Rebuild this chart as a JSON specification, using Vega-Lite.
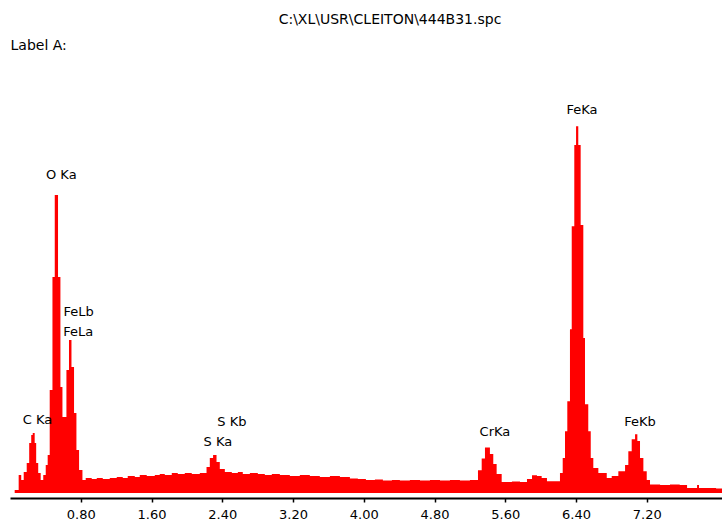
{
  "$schema": "https://vega.github.io/schema/vega-lite/v6.json",
  "width": 712,
  "height": 433,
  "autosize": {"type": "none"},
  "padding": {"left": 10, "top": 60, "right": 0, "bottom": 30},
  "background": "white",
  "config": {"view": {"stroke": null}},
  "title": {
    "text": "C:\\XL\\USR\\CLEITON\\444B31.spc",
    "anchor": "middle",
    "frame": "group",
    "dx": 24,
    "offset": 11,
    "font": "DejaVu Sans",
    "fontSize": 14,
    "fontWeight": "normal",
    "color": "black"
  },
  "datasets": {
    "spectrum": [
      {"keV": 0.053, "counts": 3},
      {"keV": 0.098, "counts": 18},
      {"keV": 0.127, "counts": 13},
      {"keV": 0.155, "counts": 21},
      {"keV": 0.189, "counts": 30},
      {"keV": 0.217, "counts": 50},
      {"keV": 0.240, "counts": 58},
      {"keV": 0.257, "counts": 60},
      {"keV": 0.279, "counts": 50},
      {"keV": 0.296, "counts": 30},
      {"keV": 0.319, "counts": 20},
      {"keV": 0.347, "counts": 13},
      {"keV": 0.376, "counts": 18},
      {"keV": 0.404, "counts": 28},
      {"keV": 0.426, "counts": 38},
      {"keV": 0.449, "counts": 103},
      {"keV": 0.480, "counts": 216},
      {"keV": 0.506, "counts": 298},
      {"keV": 0.543, "counts": 216},
      {"keV": 0.570, "counts": 106},
      {"keV": 0.593, "counts": 76},
      {"keV": 0.638, "counts": 123},
      {"keV": 0.667, "counts": 153},
      {"keV": 0.695, "counts": 126},
      {"keV": 0.724, "counts": 80},
      {"keV": 0.751, "counts": 43},
      {"keV": 0.781, "counts": 23},
      {"keV": 0.819, "counts": 13},
      {"keV": 0.856, "counts": 15},
      {"keV": 0.924, "counts": 14},
      {"keV": 0.981, "counts": 15},
      {"keV": 1.049, "counts": 14},
      {"keV": 1.128, "counts": 15},
      {"keV": 1.207, "counts": 16},
      {"keV": 1.275, "counts": 15},
      {"keV": 1.331, "counts": 17},
      {"keV": 1.411, "counts": 16},
      {"keV": 1.467, "counts": 18},
      {"keV": 1.546, "counts": 17},
      {"keV": 1.637, "counts": 18},
      {"keV": 1.693, "counts": 19},
      {"keV": 1.750, "counts": 18},
      {"keV": 1.829, "counts": 20},
      {"keV": 1.897, "counts": 19},
      {"keV": 1.976, "counts": 20},
      {"keV": 2.055, "counts": 19},
      {"keV": 2.146, "counts": 20},
      {"keV": 2.222, "counts": 26},
      {"keV": 2.259, "counts": 35},
      {"keV": 2.296, "counts": 38},
      {"keV": 2.335, "counts": 31},
      {"keV": 2.372, "counts": 24},
      {"keV": 2.429, "counts": 21},
      {"keV": 2.508, "counts": 20},
      {"keV": 2.576, "counts": 21},
      {"keV": 2.632, "counts": 19},
      {"keV": 2.712, "counts": 20},
      {"keV": 2.802, "counts": 19},
      {"keV": 2.881, "counts": 18},
      {"keV": 2.960, "counts": 19},
      {"keV": 3.051, "counts": 18},
      {"keV": 3.164, "counts": 17},
      {"keV": 3.277, "counts": 18},
      {"keV": 3.390, "counts": 17},
      {"keV": 3.503, "counts": 16},
      {"keV": 3.617, "counts": 17},
      {"keV": 3.730, "counts": 16},
      {"keV": 3.843, "counts": 14.5},
      {"keV": 3.933, "counts": 14},
      {"keV": 4.024, "counts": 13},
      {"keV": 4.126, "counts": 13.5},
      {"keV": 4.216, "counts": 12.5},
      {"keV": 4.318, "counts": 13},
      {"keV": 4.408, "counts": 12.5},
      {"keV": 4.521, "counts": 13},
      {"keV": 4.635, "counts": 12.5},
      {"keV": 4.748, "counts": 13},
      {"keV": 4.861, "counts": 12.5},
      {"keV": 4.974, "counts": 13},
      {"keV": 5.087, "counts": 12.5},
      {"keV": 5.200, "counts": 13},
      {"keV": 5.291, "counts": 22.7},
      {"keV": 5.333, "counts": 34.4},
      {"keV": 5.370, "counts": 45.4},
      {"keV": 5.426, "counts": 39},
      {"keV": 5.464, "counts": 29},
      {"keV": 5.502, "counts": 19},
      {"keV": 5.559, "counts": 11},
      {"keV": 5.675, "counts": 11.5},
      {"keV": 5.766, "counts": 11},
      {"keV": 5.845, "counts": 14},
      {"keV": 5.902, "counts": 17.7},
      {"keV": 5.958, "counts": 17},
      {"keV": 6.011, "counts": 15},
      {"keV": 6.071, "counts": 11.7},
      {"keV": 6.218, "counts": 20},
      {"keV": 6.249, "counts": 35},
      {"keV": 6.275, "counts": 61.7},
      {"keV": 6.301, "counts": 91.7},
      {"keV": 6.331, "counts": 163.7},
      {"keV": 6.351, "counts": 266.7},
      {"keV": 6.380, "counts": 348},
      {"keV": 6.400, "counts": 366.7},
      {"keV": 6.425, "counts": 348},
      {"keV": 6.452, "counts": 268},
      {"keV": 6.482, "counts": 155},
      {"keV": 6.501, "counts": 88.7},
      {"keV": 6.538, "counts": 61.7},
      {"keV": 6.566, "counts": 35},
      {"keV": 6.595, "counts": 25},
      {"keV": 6.652, "counts": 20},
      {"keV": 6.747, "counts": 15},
      {"keV": 6.803, "counts": 17},
      {"keV": 6.878, "counts": 21.7},
      {"keV": 6.954, "counts": 28},
      {"keV": 6.991, "counts": 41.7},
      {"keV": 7.029, "counts": 53.7},
      {"keV": 7.067, "counts": 58.7},
      {"keV": 7.093, "counts": 52},
      {"keV": 7.123, "counts": 35},
      {"keV": 7.161, "counts": 21.7},
      {"keV": 7.199, "counts": 13},
      {"keV": 7.236, "counts": 8.5},
      {"keV": 7.350, "counts": 8},
      {"keV": 7.462, "counts": 8.5},
      {"keV": 7.572, "counts": 8},
      {"keV": 7.655, "counts": 5},
      {"keV": 7.768, "counts": 8},
      {"keV": 7.790, "counts": 5},
      {"keV": 7.915, "counts": 5},
      {"keV": 7.983, "counts": 4.5},
      {"keV": 8.051, "counts": 4.5}
    ],
    "peaks": [
      {"keV": 0.31, "counts": 73, "label": "C Ka"},
      {"keV": 0.58, "counts": 318, "label": "O Ka"},
      {"keV": 0.777, "counts": 181, "label": "FeLb"},
      {"keV": 0.771, "counts": 161, "label": "FeLa"},
      {"keV": 2.508, "counts": 71, "label": "S Kb"},
      {"keV": 2.35, "counts": 51, "label": "S Ka"},
      {"keV": 5.483, "counts": 61, "label": "CrKa"},
      {"keV": 6.467, "counts": 383, "label": "FeKa"},
      {"keV": 7.123, "counts": 71, "label": "FeKb"}
    ]
  },
  "encoding": {
    "x": {
      "field": "keV",
      "type": "quantitative",
      "scale": {"domain": [0, 8.05], "nice": false, "zero": false},
      "axis": {
        "title": null,
        "values": [0.8, 1.6, 2.4, 3.2, 4.0, 4.8, 5.6, 6.4, 7.2],
        "format": ".2f",
        "offset": 5,
        "grid": false,
        "domainColor": "black",
        "domainWidth": 2,
        "tickColor": "black",
        "tickSize": 4,
        "tickWidth": 1.5,
        "labelFont": "DejaVu Sans",
        "labelFontSize": 13,
        "labelColor": "black",
        "labelDx": -10,
        "labelPadding": 6
      }
    },
    "y": {
      "field": "counts",
      "type": "quantitative",
      "scale": {"domain": [0, 433], "nice": false},
      "axis": {
        "title": "Label A:",
        "titleAngle": 0,
        "titleAlign": "left",
        "titleBaseline": "middle",
        "titleX": 0,
        "titleY": -15,
        "titleFont": "DejaVu Sans",
        "titleFontSize": 14,
        "titleFontWeight": "normal",
        "titleColor": "black",
        "domain": false,
        "ticks": false,
        "labels": false,
        "grid": false
      }
    }
  },
  "layer": [
    {
      "data": {"name": "spectrum"},
      "mark": {"type": "area", "interpolate": "step-after", "color": "#ff0000"}
    },
    {
      "data": {"name": "peaks"},
      "mark": {
        "type": "text",
        "font": "DejaVu Sans",
        "fontSize": 13,
        "color": "black",
        "align": "center",
        "baseline": "middle"
      },
      "encoding": {"text": {"field": "label"}}
    }
  ]
}
